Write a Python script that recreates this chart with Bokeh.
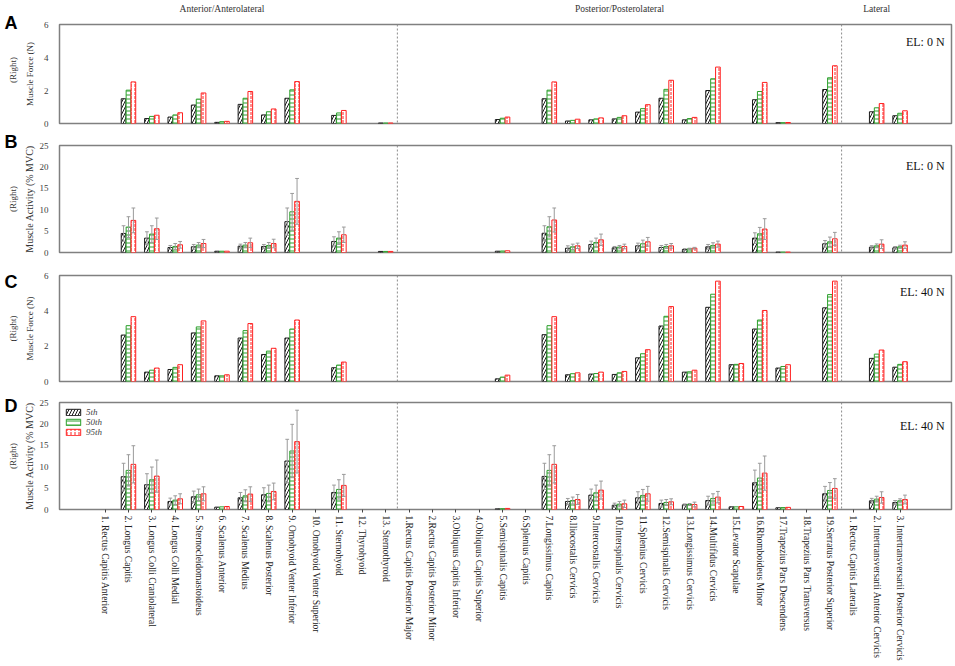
import math
from bokeh.plotting import figure
from bokeh.models import (Range1d, FixedTicker, LinearAxis, Span, Legend, LegendItem)
from bokeh.core.properties import value
from bokeh.layouts import column, row
from bokeh.embed import file_html
from bokeh.resources import INLINE

# ---------------- data ----------------
anterior = ["1. Rectus Capitis Anterior", "2. Longus Capitis", "3. Longus Colli Craniolateral",
            "4. Longus Colli Medial", "5. Sternocleidomastoideus", "6. Scalenus Anterior",
            "7. Scalenus Medius", "8. Scalenus Posterior", "9. Omohyoid Venter Inferior",
            "10. Omohyoid Venter Superior", "11. Sternohyoid", "12. Thyrohyoid", "13. Sternothyroid"]
posterior = ["1.Rectus Capitis Posterior Major", "2.Rectus Capitis Posterior Minor",
             "3.Obliquus Capitis Inferior", "4.Obliquus Capitis Superior", "5.Semispinalis Capitis",
             "6.Splenius Capitis", "7.Longissimus Capitis", "8.Iliocostalis Cervicis",
             "9.Intercostalis Cervicis", "10.Interspinalis Cervicis", "11.Splenius Cervicis",
             "12.Semispinalis Cervicis", "13.Longissimus Cervicis", "14.Multifidus Cervicis",
             "15.Levator Scapulae", "16.Rhomboideus Minor", "17.Trapezius Pars Descendens",
             "18.Trapezius Pars Transversus", "19.Serratus Posterior Superior"]
lateral = ["1. Rectus Capitis Lateralis", "2. Intertransversarii Anterior Cervicis",
           "3. Intertransversarii Posterior Cervicis"]
group_names = ["Anterior/Anterolateral", "Posterior/Posterolateral", "Lateral"]
group_label_pos = [6, 23, 34]
series_names = ["5th", "50th", "95th"]
panel_letters = ["A", "B", "C", "D"]
force_ticks = [0, 2, 4, 6]
activity_ticks = [0, 5, 10, 15, 20, 25]

# Panel A: muscle force (N), EL 0 N
forceA_5 = [0, 1.50, 0.30, 0.39, 1.12, 0.07, 1.16, 0.52, 1.53, 0, 0.49, 0, 0.03,
            0, 0, 0, 0, 0.24, 0, 1.50, 0.15, 0.22, 0.28, 0.69, 1.53, 0.22, 2.00, 0, 1.44, 0.05, 0, 2.06,
            0, 0.71, 0.47]
forceA_50 = [0, 2.02, 0.43, 0.52, 1.48, 0.11, 1.53, 0.71, 2.04, 0, 0.64, 0, 0.03,
             0, 0, 0, 0, 0.32, 0, 2.02, 0.19, 0.28, 0.37, 0.90, 2.07, 0.30, 2.71, 0, 1.94, 0.05, 0, 2.77,
             0, 0.95, 0.62]
forceA_95 = [0, 2.52, 0.50, 0.65, 1.85, 0.13, 1.94, 0.88, 2.54, 0, 0.79, 0, 0.03,
             0, 0, 0, 0, 0.39, 0, 2.52, 0.26, 0.34, 0.47, 1.14, 2.62, 0.37, 3.42, 0, 2.49, 0.06, 0, 3.50,
             0, 1.21, 0.77]

# Panel B: muscle activity (% MVC), EL 0 N, with SD
actB_5 = [0, 4.45, 3.36, 1.17, 1.33, 0.30, 1.48, 1.41, 7.20, 0, 2.58, 0, 0.25,
          0, 0, 0, 0, 0.30, 0, 4.50, 1.00, 1.88, 1.09, 1.56, 1.17, 0.70, 1.33, 0, 3.36, 0.10, 0, 2.03,
          0, 1.25, 1.09]
actB_50 = [0, 5.94, 4.30, 1.41, 1.72, 0.30, 1.72, 1.64, 9.50, 0, 3.36, 0, 0.25,
           0, 0, 0, 0, 0.35, 0, 6.00, 1.33, 2.34, 1.25, 2.03, 1.41, 0.86, 1.64, 0, 4.37, 0.10, 0, 2.50,
           0, 1.56, 1.33]
actB_95 = [0, 7.50, 5.55, 1.80, 2.10, 0.30, 2.27, 2.10, 11.95, 0, 4.14, 0, 0.25,
           0, 0, 0, 0, 0.40, 0, 7.60, 1.56, 2.97, 1.41, 2.50, 1.56, 1.00, 1.95, 0, 5.47, 0.10, 0, 3.20,
           0, 1.95, 1.72]
sdB_5 = [0, 1.80, 1.48, 0.47, 0.55, 0, 0.47, 0.47, 3.20, 0, 1.09, 0, 0,
         0, 0, 0, 0, 0, 0, 1.75, 0.56, 0.78, 0.32, 0.63, 0.47, 0.20, 0.55, 0, 1.24, 0, 0, 0.77,
         0, 0.35, 0.31]
sdB_50 = [0, 2.42, 1.95, 0.69, 0.62, 0, 0.62, 0.70, 4.30, 0, 1.48, 0, 0,
          0, 0, 0, 0, 0, 0, 2.36, 0.62, 1.02, 0.39, 0.86, 0.47, 0.14, 0.63, 0, 1.49, 0, 0, 1.10,
          0, 0.44, 0.37]
sdB_95 = [0, 2.90, 2.50, 0.78, 0.95, 0, 1.09, 1.00, 5.35, 0, 1.80, 0, 0,
          0, 0, 0, 0, 0, 0, 2.80, 0.63, 1.33, 0.54, 1.02, 0.54, 0.20, 0.71, 0, 2.43, 0, 0, 1.50,
          0, 1.02, 0.78]

# Panel C: muscle force (N), EL 40 N
forceC_5 = [0, 2.63, 0.53, 0.68, 2.75, 0.32, 2.46, 1.53, 2.46, 0, 0.78, 0, 0,
            0, 0, 0, 0, 0.15, 0, 2.65, 0.38, 0.42, 0.40, 1.34, 3.14, 0.53, 4.20, 0.95, 2.97, 0.76, 0, 4.17,
            0, 1.31, 0.81]
forceC_50 = [0, 3.16, 0.64, 0.80, 3.09, 0.32, 2.88, 1.72, 2.97, 0, 0.93, 0, 0,
             0, 0, 0, 0, 0.25, 0, 3.16, 0.44, 0.45, 0.49, 1.57, 3.69, 0.55, 4.94, 0.97, 3.48, 0.85, 0, 4.92,
             0, 1.55, 0.97]
forceC_95 = [0, 3.67, 0.76, 0.95, 3.43, 0.38, 3.28, 1.88, 3.48, 0, 1.10, 0, 0,
             0, 0, 0, 0, 0.36, 0, 3.67, 0.49, 0.53, 0.57, 1.80, 4.24, 0.64, 5.68, 1.02, 4.02, 0.95, 0, 5.68,
             0, 1.78, 1.12]

# Panel D: muscle activity (% MVC), EL 40 N, with SD
actD_5 = [0, 7.66, 5.78, 1.88, 2.97, 0.55, 2.73, 3.44, 11.33, 0, 3.98, 0, 0,
          0, 0, 0, 0, 0.15, 0, 7.73, 1.88, 3.36, 1.00, 2.73, 1.41, 1.09, 2.10, 0.62, 6.25, 0.40, 0, 3.67,
          0, 2.03, 1.64]
actD_50 = [0, 9.14, 6.95, 2.19, 3.44, 0.62, 3.20, 3.75, 13.67, 0, 4.69, 0, 0,
           0, 0, 0, 0, 0.20, 0, 9.14, 2.10, 3.90, 1.25, 3.28, 1.64, 1.17, 2.58, 0.62, 7.34, 0.45, 0, 4.45,
           0, 2.42, 2.03]
actD_95 = [0, 10.55, 7.80, 2.50, 3.67, 0.70, 3.60, 4.22, 15.86, 0, 5.63, 0, 0,
           0, 0, 0, 0, 0.25, 0, 10.55, 2.34, 4.53, 1.33, 3.67, 1.80, 1.17, 2.89, 0.70, 8.50, 0.50, 0, 4.92,
           0, 2.81, 2.34]
sdD_5 = [0, 3.14, 2.58, 0.78, 1.33, 0, 1.25, 1.64, 5.07, 0, 1.72, 0, 0,
         0, 0, 0, 0, 0, 0, 3.07, 0.70, 1.41, 0.48, 1.41, 0.78, 0.21, 1.00, 0, 2.95, 0, 0, 1.73,
         0, 0.57, 0.46]
sdD_50 = [0, 3.66, 2.97, 1.01, 1.33, 0, 1.40, 1.95, 6.23, 0, 2.26, 0, 0,
          0, 0, 0, 0, 0, 0, 3.66, 0.80, 1.80, 0.63, 1.41, 0.70, 0.23, 1.09, 0, 3.46, 0, 0, 1.85,
          0, 0.68, 0.47]
sdD_95 = [0, 4.35, 3.76, 1.17, 1.63, 0, 1.70, 1.95, 7.34, 0, 2.57, 0, 0,
          0, 0, 0, 0, 0, 0, 4.35, 1.16, 2.11, 0.86, 1.73, 0.70, 0.55, 1.33, 0, 4.00, 0, 0, 2.28,
          0, 1.33, 1.02]

# ---------------- layout / style ----------------
categories = anterior + posterior + lateral
xs = list(range(1, len(categories) + 1))
boundaries = [len(anterior) + 0.5, len(anterior) + len(posterior) + 0.5]

SERIF = "Liberation Serif"
SANS = "Liberation Sans"
X0, X1 = -0.95, 37.2
STRIP_W = 20
W = 955 - STRIP_W
LEFT, RIGHT = 32, 4
FW = W - LEFT - RIGHT
TOTAL_H = 666

STYLES = [  # (offset, line colour, hatch, hatch scale)
    (-0.21, "#1a1a1a", "/", 6),
    (0.0, "#2ca02c", "-", 4),
    (0.21, "#ff2020", ":", 4),
]


def px2x(px):
    return X0 + (px - STRIP_W - LEFT) / FW * (X1 - X0)


def make_panel(page_top, height, top, frame_h, ymax, yticks, series, sds, ylabel, ylabel_size,
               ylabel_standoff, el_text, el_py, show_x=False, legend=False, titles=False):
    bottom = height - top - frame_h
    ftop = page_top + top
    fbot = ftop + frame_h

    def py2y(py):
        return ymax * (fbot - py) / frame_h

    p = figure(width=W, height=height, x_range=Range1d(X0, X1), y_range=Range1d(0, ymax),
               output_backend="svg", toolbar_location=None,
               min_border_left=LEFT, min_border_right=RIGHT,
               min_border_top=top, min_border_bottom=bottom)
    p.grid.visible = False
    p.outline_line_color = "#808080"
    p.outline_line_width = 1.5

    p.yaxis.ticker = FixedTicker(ticks=yticks)
    p.yaxis.axis_line_color = None
    p.yaxis.major_tick_line_color = None
    p.yaxis.minor_tick_line_color = None
    p.yaxis.major_label_text_font = SERIF
    p.yaxis.major_label_text_font_size = "9px"
    p.yaxis.major_label_text_color = "#404040"
    p.yaxis.major_label_standoff = 5
    p.yaxis.axis_label = ylabel
    p.yaxis.axis_label_text_font = SERIF
    p.yaxis.axis_label_text_font_style = "normal"
    p.yaxis.axis_label_text_font_size = ylabel_size
    p.yaxis.axis_label_text_color = "#333333"
    p.yaxis.axis_label_standoff = ylabel_standoff

    if show_x:
        p.xaxis.ticker = FixedTicker(ticks=xs)
        p.xaxis.major_label_overrides = {x: c for x, c in zip(xs, categories)}
        p.xaxis.major_label_orientation = -math.pi / 2
        p.xaxis.major_label_text_font = SERIF
        p.xaxis.major_label_text_font_size = "9.5px"
        p.xaxis.major_label_text_color = "#222222"
        p.xaxis.major_label_standoff = 3
        p.xaxis.axis_line_color = None
        p.xaxis.major_tick_in = 0
        p.xaxis.major_tick_out = 3
        p.xaxis.major_tick_line_color = "#444444"
        p.xaxis.minor_tick_line_color = None
    else:
        p.xaxis.visible = False

    if titles:
        ax = LinearAxis(ticker=FixedTicker(ticks=group_label_pos),
                        major_label_overrides={x: n for x, n in zip(group_label_pos, group_names)})
        ax.axis_line_color = None
        ax.major_tick_line_color = None
        ax.minor_tick_line_color = None
        ax.major_label_text_font = SERIF
        ax.major_label_text_font_size = "9.5px"
        ax.major_label_text_color = "#333333"
        ax.major_label_standoff = 5
        p.add_layout(ax, "above")

    for b in boundaries:
        p.add_layout(Span(location=b, dimension="height", line_color="#8c8c8c",
                          line_dash="2 2", line_width=1))

    renderers = []
    for k, (off, col, hatch, hs) in enumerate(STYLES):
        vals = series[k]
        bx = [x + off for x, v in zip(xs, vals) if v > 0]
        bt = [v for v in vals if v > 0]
        r = p.vbar(x=bx, top=bt, width=0.2, bottom=0, fill_color="white", line_color=col,
                   line_width=1, hatch_pattern=hatch, hatch_color=col, hatch_scale=hs,
                   hatch_weight=1)
        renderers.append(r)

    if sds is not None:
        for k, (off, col, hatch, hs) in enumerate(STYLES):
            vals, sd = series[k], sds[k]
            ex = [x + off for x, v, s in zip(xs, vals, sd) if s > 0]
            lo = [v - s for v, s in zip(vals, sd) if s > 0]
            hi = [v + s for v, s in zip(vals, sd) if s > 0]
            p.segment(x0=ex, y0=lo, x1=ex, y1=hi, line_color="#9a9a9a", line_width=1)
            p.segment(x0=[x - 0.08 for x in ex], y0=hi, x1=[x + 0.08 for x in ex], y1=hi,
                      line_color="#9a9a9a", line_width=1)
            p.segment(x0=[x - 0.08 for x in ex], y0=lo, x1=[x + 0.08 for x in ex], y1=lo,
                      line_color="#9a9a9a", line_width=1)

    if legend:
        lg = Legend(items=[LegendItem(label=n, renderers=[r]) for n, r in zip(series_names, renderers)],
                    location="top_left")
        lg.border_line_color = None
        lg.background_fill_alpha = 0
        lg.label_text_font = SERIF
        lg.label_text_font_style = "italic"
        lg.label_text_font_size = "9px"
        lg.glyph_width = 18
        lg.glyph_height = 8
        lg.label_height = 8
        lg.spacing = 0
        lg.padding = 3
        lg.margin = 5
        lg.label_standoff = 4
        p.add_layout(lg)

    p.text(x=[px2x(944)], y=[py2y(el_py)], text=[el_text], text_align="right",
           text_baseline="middle", text_font=value(SERIF), text_font_size="12px",
           text_color="#111111")
    return p


pA = make_panel(0, 128, 16, 107, 6, force_ticks, [forceA_5, forceA_50, forceA_95], None,
                "Muscle Force (N)", "9px", 6, "EL: 0 N", 35, titles=True)
pB = make_panel(128, 130, 17, 107, 25, activity_ticks, [actB_5, actB_50, actB_95],
                [sdB_5, sdB_50, sdB_95], "Muscle Activity (% MVC)", "10px", 2, "EL: 0 N", 165)
pC = make_panel(258, 128, 17, 106, 6, force_ticks, [forceC_5, forceC_50, forceC_95], None,
                "Muscle Force (N)", "9px", 6, "EL: 40 N", 291)
pD = make_panel(386, 280, 16, 107, 25, activity_ticks, [actD_5, actD_50, actD_95],
                [sdD_5, sdD_50, sdD_95], "Muscle Activity (% MVC)", "10px", 2, "EL: 40 N", 425,
                show_x=True, legend=True)

# left strip with panel letters and the "(Right)" side labels
strip = figure(width=STRIP_W, height=TOTAL_H, x_range=Range1d(0, STRIP_W),
               y_range=Range1d(0, TOTAL_H), x_axis_type=None, y_axis_type=None,
               output_backend="svg", toolbar_location=None, min_border=0)
strip.grid.visible = False
strip.outline_line_color = None
letter_base_py = [22, 141, 281, 405]
right_center_py = [69.5, 198.5, 328, 455.5]
strip.text(x=[4] * 4, y=[TOTAL_H - v for v in letter_base_py], text=panel_letters,
           text_align="left", text_baseline="alphabetic", text_font=value(SANS),
           text_font_style="bold", text_font_size="18px", text_color="black")
strip.text(x=[12.5] * 4, y=[TOTAL_H - v for v in right_center_py], text=["(Right)"] * 4,
           angle=math.pi / 2, text_align="center", text_baseline="middle",
           text_font=value(SERIF), text_font_size="9px", text_color="#333333")

layout = row(strip, column(pA, pB, pC, pD, spacing=0), spacing=0)
open("out.html", "w").write(file_html(layout, INLINE))
